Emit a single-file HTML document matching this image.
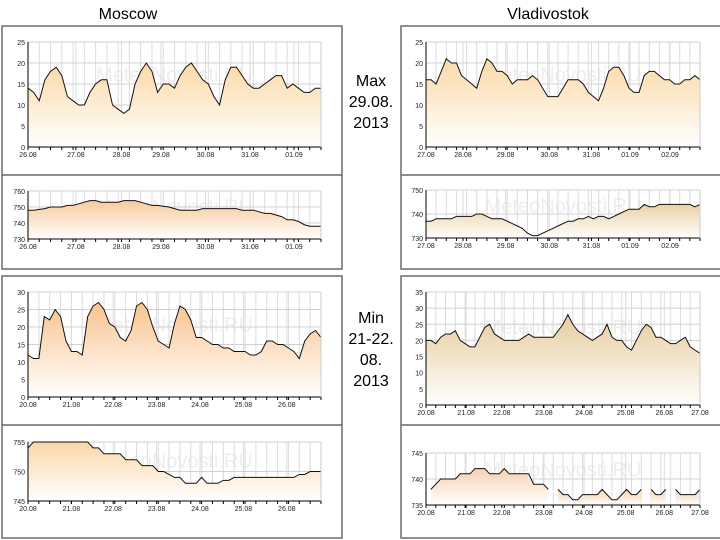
<!DOCTYPE html>
<html><head><meta charset="utf-8">
<style>
html,body{margin:0;padding:0;background:#fff;}
body{width:720px;height:540px;position:relative;overflow:hidden;font-family:"Liberation Sans",sans-serif;}
.title{position:absolute;font-size:16px;color:#000;transform:translateX(-50%);}
.mid{position:absolute;font-size:16px;line-height:21px;text-align:center;width:60px;left:341px;}
svg{position:absolute;left:0;top:0;}
</style></head>
<body>
<div class="title" style="left:128px;top:6px;">Moscow</div>
<div class="title" style="left:548px;top:6px;">Vladivostok</div>
<div class="mid" style="top:71px;">Max<br>29.08.<br>2013</div>
<div class="mid" style="top:308px;">Min<br>21-22.<br>08.<br>2013</div>
<svg id="s" width="720" height="540"></svg>
<script>
// Moscow max period (3-hour steps)
const mmaxTemp=[14,13,11,16,18,19,17,12,11,10,10,13,15,16,16,10,9,8,9,15,18,20,18,13,15,15,14,17,19,20,18,16,15,12,10,16,19,19,17,15,14,14,15,16,17,17,14,15,14,13,13,14,14];
const mmaxPres=[748,748,748.5,749,750,750,750,751,751,752,753,754,754,753,753,753,753,754,754,754,753,752,751,751,750.5,750,749,748,748,748,748,749,749,749,749,749,749,749,748,748,748,747,746,746,745,744,742,742,741,739,738,738,738];
const mmaxLabels=["26.08","27.08","28.08","29.08","30.08","31.08","01.09"];
const mmaxLabelIdx=[0,8.5,16.6,23.6,31.5,39.4,47.2];
// Vladivostok max period
const vmaxTemp=[16,16,15,18,21,20,20,17,16,15,14,18,21,20,18,18,17,15,16,16,16,17,16,14,12,12,12,14,16,16,16,15,13,12,11,14,18,19,19,17,14,13,13,17,18,18,17,16,16,15,15,16,16,17,16];
const vmaxPres=[737,737,738,738,738,738,739,739,739,739,740,740,739,738,738,738,737,736,735,734,732,731,731,732,733,734,735,736,737,737,738,738,739,738,739,739,738,739,740,741,742,742,742,744,743,743,744,744,744,744,744,744,744,743,744];
const vmaxLabels=["27.08","28.08","29.08","30.08","31.08","01.09","02.09"];
const vmaxLabelIdx=[0,7.3,15.7,24.3,32.6,40.2,48.1];
// Moscow min period
const mminTemp=[12,11,11,23,22,25,23,16,13,13,12,23,26,27,25,21,20,17,16,19,26,27,25,20,16,15,14,21,26,25,22,17,17,16,15,15,14,14,13,13,13,12,12,13,16,16,15,15,14,13,11,16,18,19,17];
const mminPres=[754,755,755,755,755,755,755,755,755,755,755,755,754,754,753,753,753,753,752,752,752,751,751,751,750,750,749.5,749,749,748,748,748,749,748,748,748,748.5,748.5,749,749,749,749,749,749,749,749,749,749,749,749,749.5,749.5,750,750,750];
const mminLabels=["20.08","21.08","22.08","23.08","24.08","25.08","26.08"];
const mminLabelIdx=[0,8,15.7,23.7,31.7,39.7,47.7];
// Vladivostok min period
const vminTemp=[20,20,19,21,22,22,23,20,19,18,18,21,24,25,22,21,20,20,20,20,21,22,21,21,21,21,21,23,25,28,25,23,22,21,20,21,22,25,21,20,20,18,17,20,23,25,24,21,21,20,19,19,20,21,18,17,16];
const vminPres=[null,738,739,740,740,740,740,741,741,741,742,742,742,741,741,741,742,741,741,741,741,741,739,739,739,738,null,738,737,737,736,736,737,737,737,737,738,737,736,736,737,738,737,737,738,null,738,737,737,738,null,738,737,737,737,737,738];
const vminLabels=["20.08","21.08","22.08","23.08","24.08","25.08","26.08","27.08"];
const vminLabelIdx=[0,8.2,15.5,24.1,32.3,40.8,48.7,56];

const S=document.getElementById('s');
const NS='http://www.w3.org/2000/svg';
function mk(tag,attrs,parent){const e=document.createElementNS(NS,tag);for(const k in attrs)e.setAttribute(k,attrs[k]);(parent||S).appendChild(e);return e;}

let gid=0;
function chart(name,x0,x1,y0,y1,vmin,vmax,ystep,vals,labels,labelIdx,c1,ylabels){
  const n=vals.length;
  const X=i=>x0+(x1-x0)*i/(n-1);
  const Y=v=>y1-(y1-y0)*(v-vmin)/(vmax-vmin);
  const g=mk('g',{});
  
  
  // watermark
  const wm=mk('text',{x:(x0+x1)/2,y:y0+(y1-y0)*0.3+8,'text-anchor':'middle','font-size':20,fill:'#eee','font-family':'Liberation Sans, sans-serif'},g);
  wm.textContent='MeteoNovosti.RU';
  
  
  // vertical grid
  const ticks=[];
  for(let i=0;i<n;i+=2)ticks.push(i);
  labelIdx.forEach(t=>ticks.push(t));
  ticks.forEach(t=>{
    const l=mk('line',{x1:X(t),x2:X(t),y1:y0,y2:y1,stroke:'#dcdcdc','stroke-width':1},g);
    
    
    const tk=mk('line',{x1:X(t),x2:X(t),y1:y1,y2:y1+3,stroke:'#000','stroke-width':1},g);
    
    
  });
  // horizontal grid + y labels
  ylabels.forEach(v=>{
    const l=mk('line',{x1:x0,x2:x1,y1:Y(v),y2:Y(v),stroke:'#d0d0d0','stroke-width':1},g);
    
    
    const t=mk('text',{x:x0-3,y:Y(v)+3,'text-anchor':'end','font-size':7,fill:'#222'},g);
    t.textContent=v;
    
    
  });
  // gradient
  const id='gr'+(gid++);
  const defs=mk('defs',{},g);
  const lg=mk('linearGradient',{id:id,x1:0,y1:0,x2:0,y2:1},defs);
  mk('stop',{offset:'0','stop-color':c1},lg);
  mk('stop',{offset:'1','stop-color':'#ffffff'},lg);
  // segments (handle nulls)
  let segs=[],cur=[];
  vals.forEach((v,i)=>{if(v===null){if(cur.length)segs.push(cur);cur=[];}else cur.push([X(i),Y(v)]);});
  if(cur.length)segs.push(cur);
  segs.forEach(sg=>{
    if(sg.length<2)return;
    let d='M'+sg[0][0]+','+y1+' '+sg.map(p=>'L'+p[0]+','+p[1]).join(' ')+' L'+sg[sg.length-1][0]+','+y1+'Z';
    const a=mk('path',{d:d,fill:'url(#'+id+')'},g);
    
    
    const ln=mk('polyline',{points:sg.map(p=>p.join(',')).join(' '),fill:'none',stroke:'#111','stroke-width':1},g);
    
    
  });
  // axes
  const ax=mk('path',{d:`M${x0},${y0}V${y1}H${x1}`,fill:'none',stroke:'#000','stroke-width':1},g);
  
  
  mk('line',{x1:x1,x2:x1,y1:y0,y2:y1,stroke:'#ccc'},g);
  labels.forEach((s,i)=>{
    const t=mk('text',{x:X(labelIdx[i]),y:y1+10,'text-anchor':'middle','font-size':7,fill:'#222'},g);
    t.textContent=s;
    
    
  });
}

function box(name,x,y,w,h,div){
  const r=mk('rect',{x:x,y:y,width:w,height:h,fill:'none',stroke:'#6a6a6a','stroke-width':1.5});
  
  
  const l=mk('line',{x1:x,x2:x+w,y1:div,y2:div,stroke:'#6a6a6a','stroke-width':1.5});
  
  
}
box('moscow-max-box',2,26,340,243,175);
box('vladivostok-max-box',401,26,330,243,175);
box('moscow-min-box',2,276,340,262,425);
box('vladivostok-min-box',401,276,330,262,425);

chart('moscow-max-temp-chart',28,321,42,147,0,25,5,mmaxTemp,mmaxLabels,mmaxLabelIdx,'#fbd9a6',[0,5,10,15,20,25]);
chart('moscow-max-pressure-chart',28,321,191,239,730,760,10,mmaxPres,mmaxLabels,mmaxLabelIdx,'#f9c99c',[730,740,750,760]);
chart('vladivostok-max-temp-chart',426,700,42,147,0,25,5,vmaxTemp,vmaxLabels,vmaxLabelIdx,'#fbd9a6',[0,5,10,15,20,25]);
chart('vladivostok-max-pressure-chart',426,700,190,238,730,750,10,vmaxPres,vmaxLabels,vmaxLabelIdx,'#e9d1a4',[730,740,750]);
chart('moscow-min-temp-chart',28,321,292,397,0,30,5,mminTemp,mminLabels,mminLabelIdx,'#f9c38e',[0,5,10,15,20,25,30]);
chart('moscow-min-pressure-chart',28,321,442,501,745,755,5,mminPres,mminLabels,mminLabelIdx,'#fad7a8',[745,750,755]);
chart('vladivostok-min-temp-chart',426,700,292,405,0,35,5,vminTemp,vminLabels,vminLabelIdx,'#e6cc9c',[0,5,10,15,20,25,30,35]);
chart('vladivostok-min-pressure-chart',426,700,453,505,735,745,5,vminPres,vminLabels,vminLabelIdx,'#f6d2b0',[735,740,745]);
</script>
</body></html>
